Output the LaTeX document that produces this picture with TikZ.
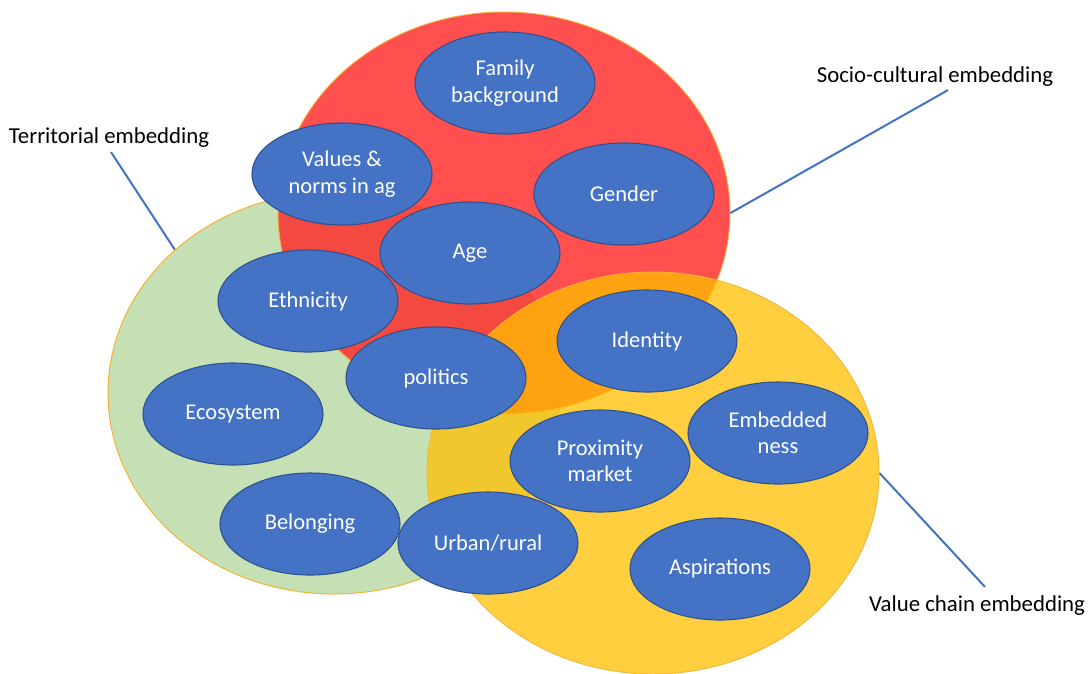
\documentclass[tikz,border=0pt]{standalone}
\usepackage{fontspec}
\setmainfont{Carlito}
\usetikzlibrary{shapes.geometric}
\definecolor{grn}{HTML}{C5E0B4}
\definecolor{rd}{RGB}{255,39,39}
\definecolor{yl}{HTML}{FFC000}
\definecolor{bl}{HTML}{4472C4}
\definecolor{bldark}{HTML}{2F528F}
\definecolor{rim}{HTML}{F5B335}
\tikzset{
  bigc/.style={ellipse, minimum width=452pt, minimum height=402pt, inner sep=0pt, draw=rim, line width=1pt},
  item/.style={ellipse, minimum width=180pt, minimum height=102pt, inner sep=0pt, fill=bl, draw=bldark, line width=1.1pt,
    text=white, align=center, font=\fontsize{22.5}{26.5}\selectfont},
  lbl/.style={inner sep=0pt, text=black, font=\fontsize{22.8}{26}\selectfont},
  lead/.style={draw=bl, line width=2pt}
}
\begin{document}
\begin{tikzpicture}[x=1pt,y=-1pt]
\useasboundingbox (0,0) rectangle (1089,673);
\fill[white] (0,0) rectangle (1089,673);
% big circles
\node[bigc, fill=grn] (green) at (334,393) {};
\node[bigc, fill=rd, fill opacity=0.81, draw opacity=0.9] (red) at (504,213) {};
\node[bigc, fill=yl, fill opacity=0.75, draw opacity=0.9] (yellow) at (653,473) {};
% items
\node[item] (family) at (505,83) {Family\\background};
\node[item] (values) at (342,174) {Values \&\\norms in ag};
\node[item] (gender) at (624,194) {Gender};
\node[item] (age) at (470,253) {Age};
\node[item] (ethnicity) at (308,301) {Ethnicity};
\node[item] (identity) at (647,341) {Identity};
\node[item] (politics) at (436,378) {politics};
\node[item] (ecosystem) at (233,414) {Ecosystem};
\node[item] (embedded) at (778,433) {Embedded\\ness};
\node[item] (proximity) at (600,461) {Proximity\\market};
\node[item] (belonging) at (310,524) {Belonging};
\node[item] (urban) at (488,543) {Urban/rural};
\node[item] (aspirations) at (720,569) {Aspirations};
% labels
\node[lbl] (terr) at (109,138) {Territorial embedding};
\node[lbl] (socio) at (935,77) {Socio-cultural embedding};
\node[lbl] (value) at (977,606) {Value chain embedding};
% leader lines
\draw[lead] ([xshift=2pt,yshift=-4pt]terr.south) -- (green.138.4);
\draw[lead] ([xshift=13pt,yshift=-3pt]socio.south) -- (red.east);
\draw[lead] ([xshift=8pt,yshift=9pt]value.north) -- (yellow.east);
\end{tikzpicture}
\end{document}
